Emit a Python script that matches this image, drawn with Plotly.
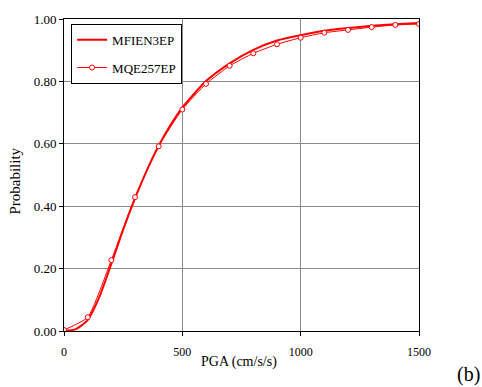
import plotly.graph_objects as go

# MFIEN3EP fragility curve
mfien_x = [0, 50, 100, 150, 200, 250, 300, 350, 400, 450, 500, 600, 700, 800, 900, 1000, 1100, 1200, 1300, 1400, 1500]
mfien_y = [0.0, 0.006, 0.035, 0.11, 0.215, 0.325, 0.425, 0.515, 0.594, 0.66, 0.716, 0.801, 0.858, 0.901, 0.931, 0.948, 0.962, 0.971, 0.978, 0.983, 0.987]

# MQE257EP points
mqe_x = [0, 100, 200, 300, 400, 500, 600, 700, 800, 900, 1000, 1100, 1200, 1300, 1400, 1500]
mqe_y = [0.003, 0.044, 0.227, 0.429, 0.592, 0.710, 0.792, 0.850, 0.890, 0.919, 0.940, 0.956, 0.965, 0.974, 0.981, 0.984]

x_ticks = [0, 500, 1000, 1500]
y_ticks = [0.0, 0.2, 0.4, 0.6, 0.8, 1.0]

SERIF = "Liberation Serif, Times New Roman, serif"
RED = "#ff0000"

fig = go.Figure()
fig.add_trace(go.Scatter(
    x=mfien_x, y=mfien_y, mode="lines", name="MFIEN3EP",
    legendgroup="a",
    line=dict(color=RED, width=2, shape="spline", smoothing=0.6),
))
fig.add_trace(go.Scatter(
    x=mqe_x, y=mqe_y, mode="lines+markers", name="MQE257EP",
    legendgroup="b",
    line=dict(color=RED, width=1, shape="spline", smoothing=0.5),
    marker=dict(symbol="circle", size=5, color="white", line=dict(color=RED, width=1)),
))

fig.update_layout(
    width=482, height=387,
    margin=dict(l=64, r=63, t=14, b=56),
    paper_bgcolor="white", plot_bgcolor="white",
    font=dict(family=SERIF, color="black"),
    showlegend=True,
    legend=dict(
        x=0.02, y=0.985, xanchor="left", yanchor="top",
        bordercolor="black", borderwidth=1, bgcolor="white",
        font=dict(family=SERIF, size=13, color="black"),
        tracegroupgap=8, itemwidth=30,
    ),
    xaxis=dict(
        range=[0, 1500], tickvals=x_ticks, ticktext=[str(v) for v in x_ticks],
        showgrid=True, gridcolor="#8a8a8a", gridwidth=1,
        showline=True, linecolor="black", linewidth=1, mirror=True,
        ticks="outside", ticklen=4, tickcolor="black",
        tickfont=dict(family=SERIF, size=12), ticklabelstandoff=6,
        zeroline=False,
    ),
    yaxis=dict(
        range=[0, 1.0], tickvals=y_ticks, ticktext=["%.2f" % v for v in y_ticks],
        showgrid=True, gridcolor="#8a8a8a", gridwidth=1,
        showline=True, linecolor="black", linewidth=1, mirror=True,
        ticks="outside", ticklen=4, tickcolor="black",
        tickfont=dict(family=SERIF, size=13),
        zeroline=False,
    ),
    annotations=[
        dict(text="PGA (cm/s/s)", xref="paper", yref="paper", x=0.493, y=-0.098,
             xanchor="center", yanchor="middle", showarrow=False,
             font=dict(family=SERIF, size=14)),
        dict(text="Probability", xref="paper", yref="paper", x=-0.139, y=0.481,
             xanchor="center", yanchor="middle", showarrow=False, textangle=-90,
             font=dict(family=SERIF, size=15)),
        dict(text="(b)", xref="paper", yref="paper", x=1.14, y=-0.139,
             xanchor="center", yanchor="middle", showarrow=False,
             font=dict(family=SERIF, size=20)),
    ],
)

fig.write_html(
    "out.html",
    config={"displayModeBar": False},
    post_script="document.body.style.margin='0';document.body.style.padding='0';",
)
